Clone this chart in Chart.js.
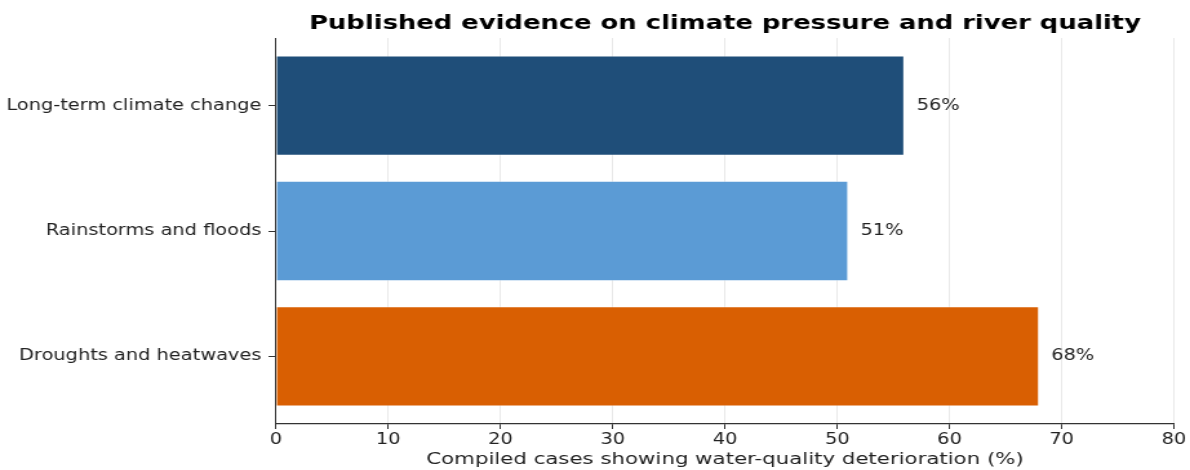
<!DOCTYPE html>
<html>
<head>
<meta charset="utf-8">
<script src="https://cdn.jsdelivr.net/npm/chart.js@4"></script>
<style>
  html, body { margin: 0; padding: 0; background: #fff; overflow: hidden; }
  /* the reference is horizontally stretched, so draw narrow and stretch */
  #wrap { width: 922px; height: 470px; transform: scaleX(1.2907); transform-origin: 0 0; }
</style>
</head>
<body>
<div id="wrap"><canvas id="chart"></canvas></div>
<script>
// data
const categories = ["Long-term climate change", "Rainstorms and floods", "Droughts and heatwaves"];
const shares = [56, 51, 68];
const barColors = ["#1f4e79", "#5b9bd5", "#d95f02"];
const xTicks = [0, 10, 20, 30, 40, 50, 60, 70, 80];
const titleText = "Published evidence on climate pressure and river quality";

const SX = 1.2907; // horizontal stretch
const FONT = "'DejaVu Sans', sans-serif";
Chart.defaults.font.family = FONT;
Chart.defaults.color = "#222";

// value labels to the right of each bar + title centred over the plot
const extras = {
  id: "extras",
  afterDatasetsDraw(chart) {
    const { ctx, scales, chartArea } = chart;
    ctx.save();
    ctx.font = "15px " + FONT;
    ctx.fillStyle = "#222";
    ctx.textBaseline = "middle";
    ctx.textAlign = "left";
    shares.forEach((v, i) => {
      const x = scales.x.getPixelForValue(v) + 12 / SX;
      const y = scales.y.getPixelForValue(i);
      ctx.fillText(v + "%", x, y);
    });
    ctx.font = "bold 20px " + FONT;
    ctx.fillStyle = "#000";
    ctx.textAlign = "center";
    ctx.textBaseline = "alphabetic";
    ctx.fillText(titleText, (chartArea.left + chartArea.right) / 2, 29);
    ctx.restore();
  }
};

new Chart(document.getElementById("chart"), {
  type: "bar",
  data: {
    datasets: [{
      data: shares.map((v, i) => ({ x: v, y: i })),
      backgroundColor: barColors,
      borderColor: "rgba(255,255,255,0.35)",
      borderWidth: 1,
      borderSkipped: "start",
      categoryPercentage: 1,
      barPercentage: 0.8
    }]
  },
  options: {
    indexAxis: "y",
    responsive: true,
    maintainAspectRatio: false,
    animation: false,
    layout: { padding: { left: 0, right: 922 - 1174 / SX, top: 38, bottom: 0 } },
    plugins: {
      legend: { display: false },
      tooltip: { enabled: false },
      title: { display: false }
    },
    scales: {
      x: {
        type: "linear",
        min: 0,
        max: 80,
        z: 1,
        afterBuildTicks: (s) => { s.ticks = xTicks.map(v => ({ value: v })); },
        afterFit: (s) => { s.height = 46; },
        ticks: { font: { size: 15 }, color: "#222", padding: 2, maxRotation: 0 },
        grid: { color: "rgba(0,0,0,0.09)", tickColor: "#333", tickLength: 5, lineWidth: 1 },
        border: { display: true, color: "#333", width: 1.2 },
        title: {
          display: true,
          text: "Compiled cases showing water-quality deterioration (%)",
          font: { size: 16.5 },
          color: "#222",
          padding: { top: 2, bottom: 0 }
        }
      },
      y: {
        type: "linear",
        reverse: true,
        offset: false,
        min: -0.54,
        max: 2.54,
        afterBuildTicks: (s) => { s.ticks = categories.map((c, i) => ({ value: i })); },
        afterFit: (s) => { s.width = 276 / SX; },
        ticks: {
          font: { size: 15 },
          color: "#222",
          padding: 5.5,
          callback: (v) => categories[v] ?? ""
        },
        grid: { offset: false, drawOnChartArea: false, tickColor: "#333", tickLength: 5.8 },
        border: { display: true, color: "#333", width: 1 }
      }
    }
  },
  plugins: [extras]
});
</script>
</body>
</html>
